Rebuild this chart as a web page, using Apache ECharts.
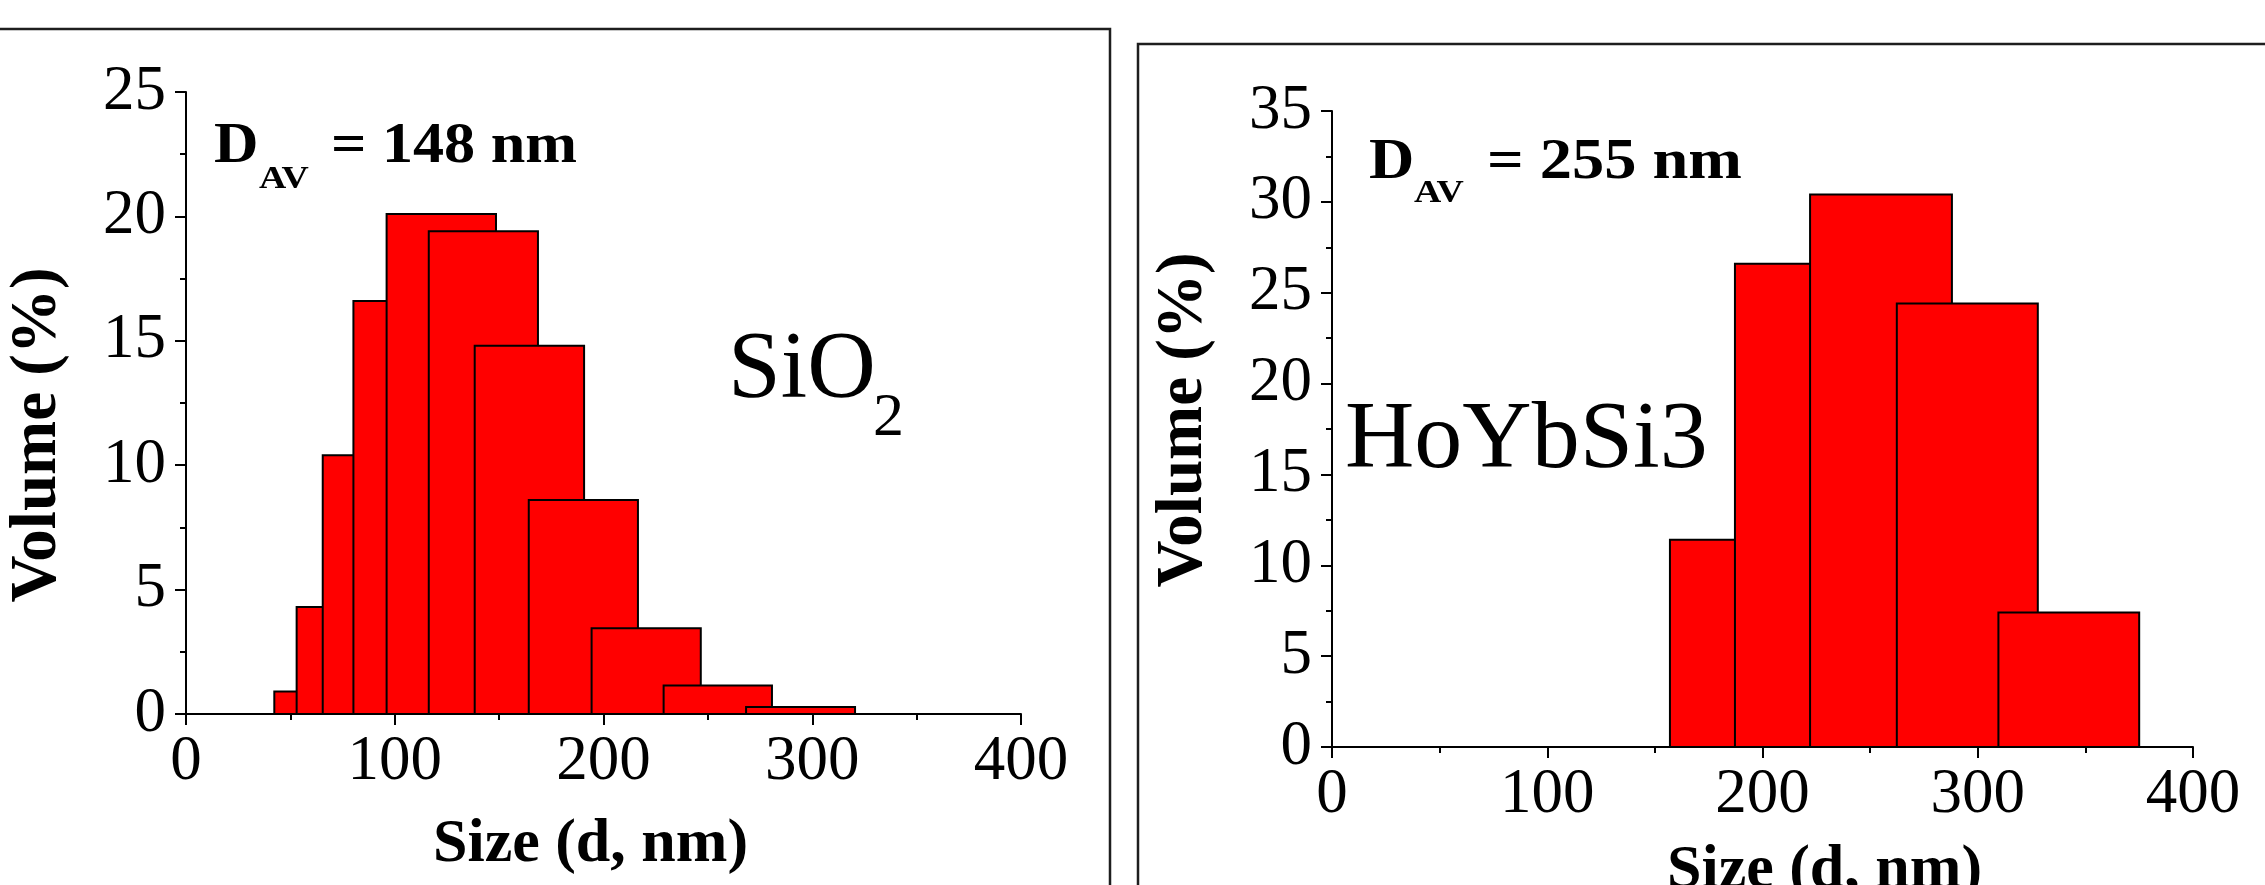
<!DOCTYPE html>
<html>
<head>
<meta charset="utf-8">
<script src="https://cdn.jsdelivr.net/npm/echarts@6/dist/echarts.min.js"></script>
<style>
html,body{margin:0;padding:0;background:#fff;}
#c{width:2265px;height:885px;}
</style>
</head>
<body>
<div id="c"></div>
<script>
// ---- data ----
// SiO2 panel: bin start / end (nm) and volume (%)
const sioStart = [42.3, 53.0, 65.5, 80.2, 96.1, 116.3, 138.3, 164.2, 194.3, 228.8, 268.3];
const sioEnd   = [94.6, 105.3, 117.8, 132.5, 148.5, 168.6, 190.7, 216.5, 246.6, 280.7, 320.5];
const sioVol   = [0.9, 4.3, 10.4, 16.6, 20.1, 19.4, 14.8, 8.6, 3.45, 1.15, 0.28];
// HoYbSi3 panel
const hoStart = [157.0, 187.2, 222.1, 262.4, 309.6];
const hoEnd   = [222.6, 252.8, 288.0, 327.9, 375.0];
const hoVol   = [11.4, 26.6, 30.4, 24.4, 7.4];
// axis ticks
const xTicks = [0, 100, 200, 300, 400];
const sioYTicks = [0, 5, 10, 15, 20, 25];
const hoYTicks = [0, 5, 10, 15, 20, 25, 30, 35];
// texts
const xName = 'Size (d, nm)';
const yName = 'Volume (%)';
const sioAvg = '148';
const hoAvg = '255';

const SERIF = '"Liberation Serif","Times New Roman",serif';

function rows(s, e, v) { return s.map((x, i) => [x, e[i], v[i]]); }

function renderBar(params, api) {
  const a = api.coord([api.value(0), api.value(2)]);
  const b = api.coord([api.value(1), 0]);
  return {
    type: 'rect',
    shape: { x: a[0], y: a[1], width: b[0] - a[0], height: b[1] - a[1] },
    style: { fill: '#ff0000', stroke: '#000', lineWidth: 2 }
  };
}

function xAxisCfg(gi, nameShift, gap) {
  return {
    gridIndex: gi, type: 'value', min: xTicks[0], max: xTicks[xTicks.length - 1], interval: 100,
    name: xName, nameLocation: 'middle', nameGap: gap,
    nameTextStyle: { fontFamily: SERIF, fontWeight: 'bold', fontSize: 62, color: '#000',
      padding: nameShift > 0 ? [0, 0, 0, 2 * nameShift] : [0, -2 * nameShift, 0, 0] },
    axisLine: { onZero: false, lineStyle: { color: '#000', width: 2 } },
    axisTick: { show: true, inside: false, length: 11, lineStyle: { color: '#000', width: 2 } },
    minorTick: { show: true, splitNumber: 2, length: 6, lineStyle: { color: '#000', width: 2 } },
    axisLabel: { fontFamily: SERIF, fontSize: 63, color: '#000', margin: 17 },
    splitLine: { show: false }
  };
}
function yAxisCfg(gi, ticks, downShift) {
  return {
    gridIndex: gi, type: 'value', min: ticks[0], max: ticks[ticks.length - 1], interval: 5,
    name: yName, nameLocation: 'middle', nameGap: 115, nameRotate: 90,
    nameTextStyle: { fontFamily: SERIF, fontWeight: 'bold', fontSize: 65, color: '#000',
      padding: downShift > 0 ? [0, 2 * downShift, 0, 0] : [0, 0, 0, -2 * downShift] },
    axisLine: { onZero: false, lineStyle: { color: '#000', width: 2 } },
    axisTick: { show: true, inside: false, length: 11, lineStyle: { color: '#000', width: 2 } },
    minorTick: { show: true, splitNumber: 2, length: 6, lineStyle: { color: '#000', width: 2 } },
    axisLabel: { fontFamily: SERIF, fontSize: 63, color: '#000', margin: 20 },
    splitLine: { show: false }
  };
}

function txt(x, y, text, size, bold, sx) {
  return { type: 'text', x: x, y: y, z: 100, scaleX: sx || 1,
    style: { text: text, fontFamily: SERIF, fontSize: size, fontWeight: bold ? 'bold' : 'normal',
      fill: '#000', align: 'left', verticalAlign: 'bottom' } };
}

const chart = echarts.init(document.getElementById('c'));
chart.setOption({
  backgroundColor: '#fff',
  animation: false,
  grid: [
    { left: 186, right: 2265 - 1021, top: 92, bottom: 885 - 714, containLabel: false, outerBoundsMode: 'none' },
    { left: 1332, right: 2265 - 2193, top: 111, bottom: 885 - 747, containLabel: false, outerBoundsMode: 'none' }
  ],
  xAxis: [xAxisCfg(0, -13, 100), xAxisCfg(1, 62, 93)],
  yAxis: [yAxisCfg(0, sioYTicks, 32), yAxisCfg(1, hoYTicks, -9)],
  series: [
    { type: 'custom', xAxisIndex: 0, yAxisIndex: 0, renderItem: renderBar,
      encode: { x: [0, 1], y: 2 }, data: rows(sioStart, sioEnd, sioVol) },
    { type: 'custom', xAxisIndex: 1, yAxisIndex: 1, renderItem: renderBar,
      encode: { x: [0, 1], y: 2 }, data: rows(hoStart, hoEnd, hoVol) }
  ],
  graphic: [
    { type: 'polyline', shape: { points: [[-5, 29], [1110, 29], [1110, 895]] },
      style: { stroke: '#1e1e1e', lineWidth: 2.5, fill: null } },
    { type: 'polyline', shape: { points: [[1138, 895], [1138, 44], [2275, 44]] },
      style: { stroke: '#1e1e1e', lineWidth: 2.5, fill: null } },
    // SiO2 panel annotations
    txt(214, 176, 'D', 56, true, 1.1),
    txt(259, 196, 'AV', 32, true, 1.18),
    txt(331, 176, '= ' + sioAvg + ' nm', 56, true, 1.11),
    txt(728, 420, 'SiO', 95, false),
    txt(873, 450, '2', 62, false),
    // HoYbSi3 panel annotations
    txt(1369, 192, 'D', 56, true, 1.12),
    txt(1414, 210, 'AV', 32, true, 1.18),
    txt(1487, 192, '= ' + hoAvg + ' nm', 56, true, 1.15),
    txt(1345, 490, 'HoYbSi3', 96, false)
  ]
});
</script>
</body>
</html>
